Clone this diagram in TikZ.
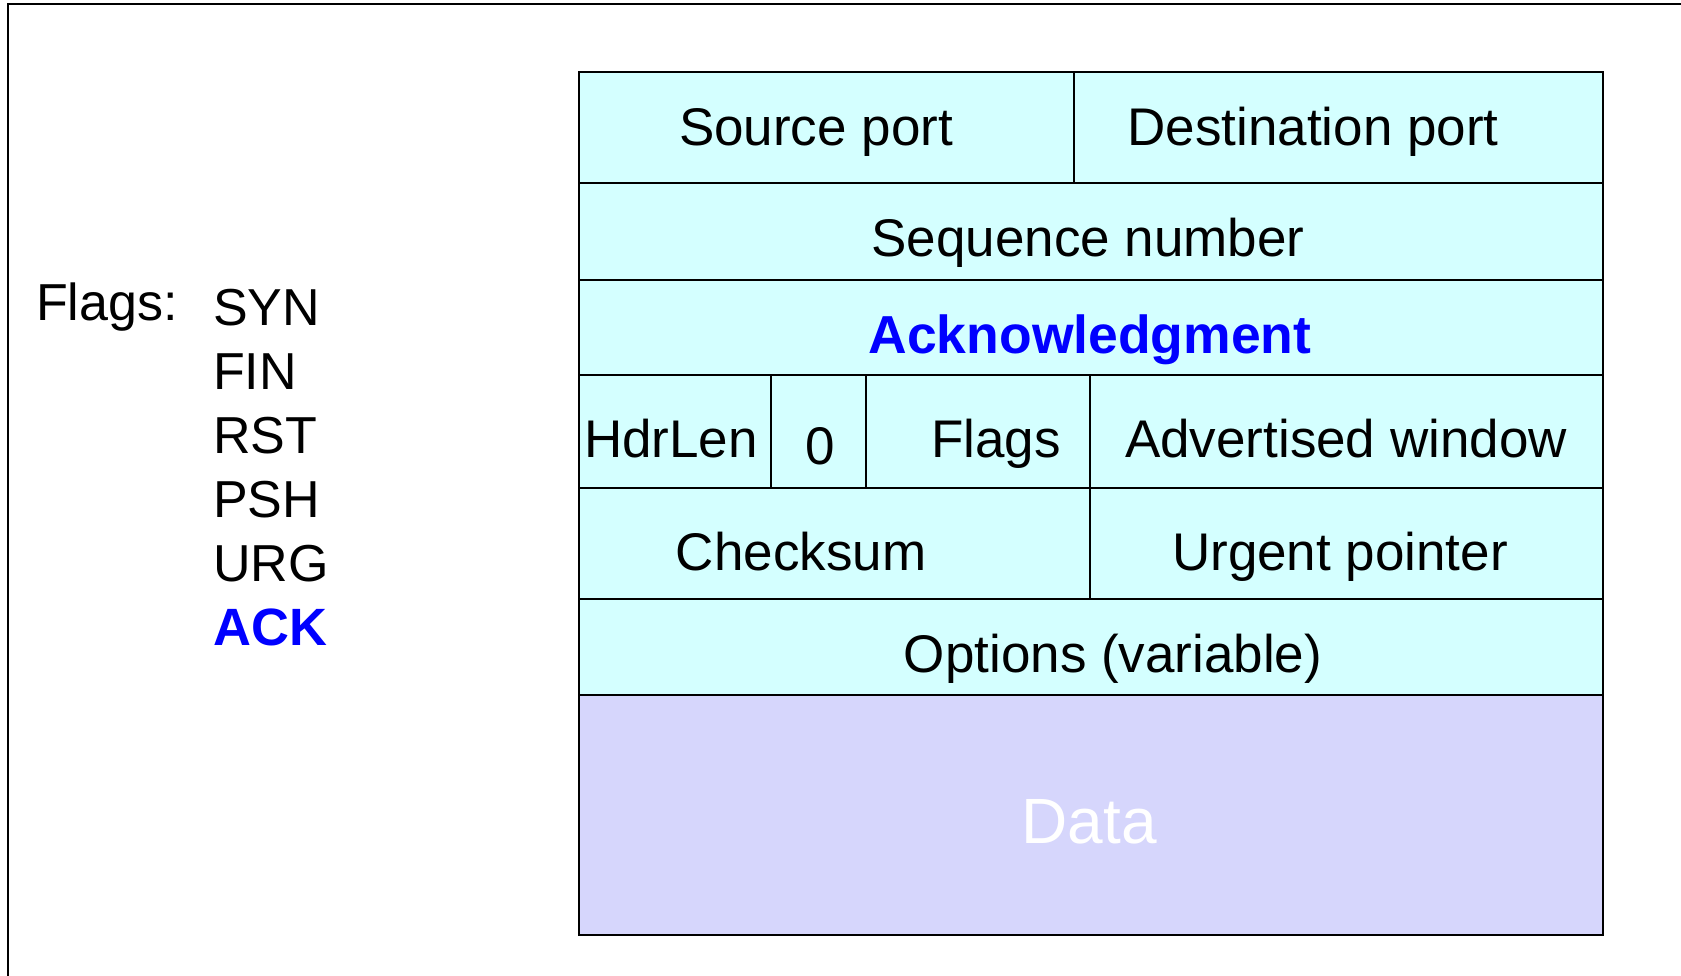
\documentclass[tikz,border=0pt]{standalone}
\usepackage{fontspec}
\setmainfont{Liberation Sans}
\usepackage{tikz}
\usetikzlibrary{positioning}
\definecolor{hdrcyan}{RGB}{212,255,255}
\definecolor{datablue}{RGB}{214,214,252}

\begin{document}
\begin{tikzpicture}[x=1pt, y=-1pt,
    cell/.style={draw=black, line width=2pt, fill=hdrcyan},
    datacell/.style={draw=black, line width=2pt, fill=datablue},
    field/.style={inner sep=0pt, anchor=base, font=\fontsize{53}{60}\selectfont},
    flagtxt/.style={inner sep=0pt, anchor=base west, font=\fontsize{52}{60}\selectfont}]
      \useasboundingbox (0,0) rectangle (1681,976);
      % Frame
      \draw[line width=2pt] (8,976) -- (8,4) -- (1681,4);
      % Header cells
      \draw[cell] (579,72) rectangle (1074,183);
      \draw[cell] (1074,72) rectangle (1603,183);
      \draw[cell] (579,183) rectangle (1603,280);
      \draw[cell] (579,280) rectangle (1603,375);
      \draw[cell] (579,375) rectangle (771,488);
      \draw[cell] (771,375) rectangle (866,488);
      \draw[cell] (866,375) rectangle (1090,488);
      \draw[cell] (1090,375) rectangle (1603,488);
      \draw[cell] (579,488) rectangle (1090,599);
      \draw[cell] (1090,488) rectangle (1603,599);
      \draw[cell] (579,599) rectangle (1603,695);
      \draw[datacell] (579,695) rectangle (1603,935);
      % Define nodes
      \node[field] (srcport) at (816,146) {Source port};
      \node[field] (dstport) at (1313,146) {Destination port};
      \node[field] (seqnum) at (1088,257) {Sequence number};
      \node[field, text=blue, font=\fontsize{53.5}{60}\selectfont\bfseries] (ack) at (1090,353) {Acknowledgment};
      \node[field] (hdrlen) at (671,457) {HdrLen};
      \node[field] (zero) at (820,464) {0};
      \node[field] (flags) at (996,457) {Flags};
      \node[field] (advwin) at (1346,457) {Advertised window};
      \node[field] (checksum) at (801,570) {Checksum};
      \node[field] (urgptr) at (1340,570) {Urgent pointer};
      \node[field] (options) at (1113,672) {Options (variable)};
      \node[field, text=white, font=\fontsize{64}{70}\selectfont] (data) at (1089,843) {Data};
      % Flag list
      \node[flagtxt] (flagslbl) at (36,320) {Flags:};
      \node[flagtxt] (syn) at (213,325) {SYN};
      \node[flagtxt, below=64pt of syn.base west, anchor=base west] (fin) {FIN};
      \node[flagtxt, below=64pt of fin.base west, anchor=base west] (rst) {RST};
      \node[flagtxt, below=64pt of rst.base west, anchor=base west] (psh) {PSH};
      \node[flagtxt, below=64pt of psh.base west, anchor=base west] (urg) {URG};
      \node[flagtxt, below=64pt of urg.base west, anchor=base west, text=blue, font=\fontsize{52.5}{60}\selectfont\bfseries] (ackflag) {ACK};
    \end{tikzpicture}
\end{document}
